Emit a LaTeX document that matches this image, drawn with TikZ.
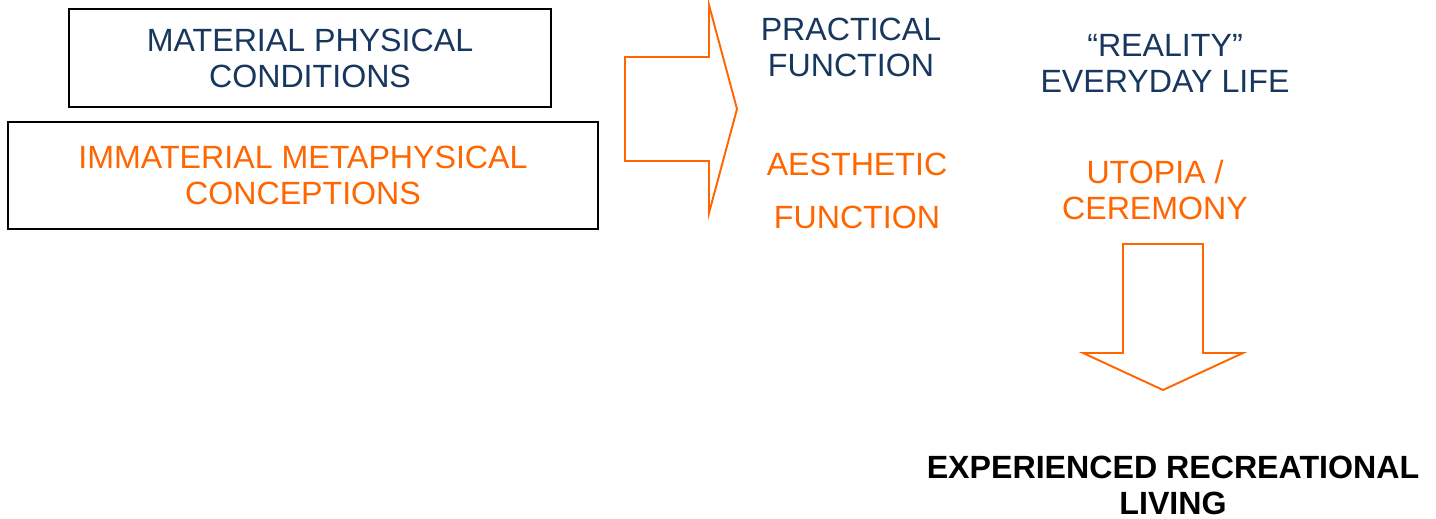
\documentclass[tikz,border=0pt]{standalone}
\usepackage{fontspec}
\setmainfont{Liberation Sans}
\usepackage{tikz}
\definecolor{navy}{RGB}{23, 55, 94}
\definecolor{flame}{RGB}{255, 102, 0}

\begin{document}
\begin{tikzpicture}[x=0.02cm, y=-0.02cm,
    label/.style={inner sep=0, align=center, font=\fontsize{18.3}{20.5}\selectfont},
    frame/.style={label, draw=black, line width=1.1pt},
    blockarrow/.style={draw=flame, line width=1.1pt, line join=miter}]
  \fill[white] (0, 0) rectangle (1436, 519);

  \node[frame, text=navy, minimum width=9.64cm, minimum height=1.96cm] (material) at (310, 58)
    { MATERIAL PHYSICAL\\CONDITIONS };
  \node[frame, text=flame, minimum width=11.8cm, minimum height=2.14cm] (immaterial) at (303, 175.5)
    { IMMATERIAL METAPHYSICAL\\CONCEPTIONS };

  \draw[blockarrow] (625, 57) -- (709, 57) -- (709, 5) -- (737, 109)
                    -- (709, 213) -- (709, 161) -- (625, 161) -- cycle;

  \node[label, text=navy]  (practical) at (851, 47)  { PRACTICAL\\FUNCTION };
  \node[label, text=flame] (aesthetic) at (857, 191) { AESTHETIC\\[10pt]FUNCTION };

  \node[label, text=navy]  (reality) at (1165, 63)  { ``REALITY''\\EVERYDAY LIFE };
  \node[label, text=flame] (utopia)  at (1155, 190) { UTOPIA /\\CEREMONY };

  \draw[blockarrow] (1123, 244) -- (1203, 244) -- (1203, 353) -- (1243, 353)
                    -- (1163, 390) -- (1083, 353) -- (1123, 353) -- cycle;

  \node[label, font=\fontsize{18.3}{20.5}\selectfont\bfseries] (living) at (1173, 485)
    { EXPERIENCED RECREATIONAL\\LIVING };
\end{tikzpicture}
\end{document}
